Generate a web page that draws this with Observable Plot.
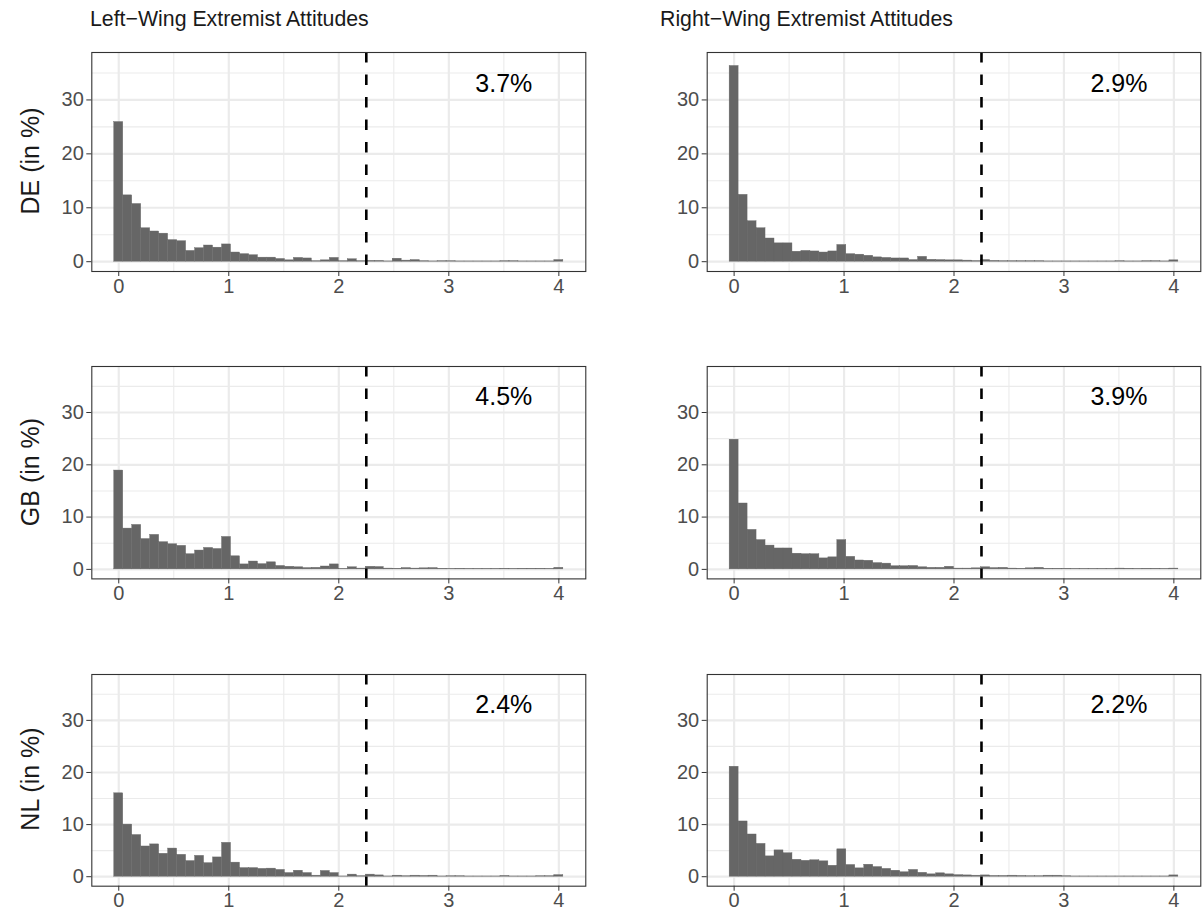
<!DOCTYPE html>
<html>
<head>
<meta charset="utf-8">
<script src="https://cdn.jsdelivr.net/npm/d3@7"></script>
<script src="https://cdn.jsdelivr.net/npm/@observablehq/plot@0.6"></script>
<style>
  html, body { margin: 0; padding: 0; background: #fff; }
  #chart { position: relative; width: 1204px; height: 917px; font-family: "Liberation Sans", Arial, sans-serif; overflow: hidden; }
  .panel { position: absolute; }
  .coltitle { position: absolute; font-size: 21.3px; color: #1a1a1a; white-space: nowrap; }
  .rowlabel { position: absolute; font-size: 25px; color: #1a1a1a; white-space: nowrap; transform: translate(-50%, -50%) rotate(-90deg); line-height: 1; }
</style>
</head>
<body>
<div id="chart"></div>
<script>
// ---- Data (percent of respondents per bin; 50 bins centred on 0 ... 4) ----
const columns = ["Left−Wing Extremist Attitudes", "Right−Wing Extremist Attitudes"];
const countries = ["DE", "GB", "NL"];
const binCount = 50;
const xMin = 0, xMax = 4;
const threshold = 2.25;
const xTicks = [0, 1, 2, 3, 4];
const yTicks = [0, 10, 20, 30];

const DE_left = [25.9, 12.3, 10.7, 6.2, 5.6, 5.2, 4.0, 3.8, 2.0, 2.5, 3.0, 2.6, 3.2, 1.7, 1.4, 1.2, 0.75, 0.75, 0.5, 0.25, 0.7, 0.6, 0.1, 0.25, 0.7, 0.1, 0.45, 0.1, 0.15, 0.15, 0.05, 0.55, 0.2, 0.3, 0.1, 0.05, 0.1, 0.1, 0.05, 0.05, 0.05, 0.05, 0.05, 0.1, 0.1, 0.05, 0.05, 0.05, 0.05, 0.3];
const DE_right = [36.3, 12.4, 7.5, 6.2, 4.3, 3.4, 3.4, 1.85, 2.0, 1.9, 1.7, 1.9, 3.1, 1.4, 1.3, 1.1, 0.8, 0.7, 0.6, 0.6, 0.3, 0.9, 0.35, 0.3, 0.25, 0.25, 0.2, 0.12, 0.3, 0.15, 0.1, 0.1, 0.1, 0.1, 0.1, 0.05, 0.05, 0.05, 0.05, 0.05, 0.05, 0.05, 0.05, 0.1, 0.05, 0.05, 0.1, 0.1, 0.05, 0.25];
const GB_left = [18.9, 7.8, 8.5, 5.8, 6.6, 5.2, 4.8, 4.5, 2.9, 3.6, 4.1, 3.9, 6.2, 2.5, 0.95, 1.5, 1.0, 1.35, 0.65, 0.5, 0.4, 0.25, 0.3, 0.55, 0.95, 0.05, 0.4, 0.15, 0.5, 0.45, 0.15, 0.1, 0.25, 0.15, 0.2, 0.25, 0.1, 0.05, 0.1, 0.05, 0.05, 0.05, 0.05, 0.1, 0.05, 0.1, 0.1, 0.1, 0.05, 0.3];
const GB_right = [24.8, 12.6, 7.55, 5.6, 4.55, 4.0, 4.0, 3.0, 2.9, 2.9, 2.1, 2.3, 5.6, 2.4, 1.7, 1.65, 1.2, 1.1, 0.6, 0.6, 0.65, 0.4, 0.3, 0.3, 0.5, 0.15, 0.15, 0.2, 0.4, 0.25, 0.3, 0.15, 0.1, 0.2, 0.3, 0.1, 0.1, 0.1, 0.05, 0.05, 0.05, 0.05, 0.05, 0.15, 0.1, 0.05, 0.1, 0.1, 0.05, 0.15];
const NL_left = [16.0, 10.0, 8.0, 5.8, 6.2, 4.4, 5.4, 4.2, 3.0, 4.0, 2.6, 3.7, 6.5, 2.7, 1.65, 1.65, 1.5, 1.55, 1.3, 0.7, 1.15, 0.7, 0.2, 1.1, 0.7, 0.05, 0.4, 0.1, 0.4, 0.25, 0.05, 0.2, 0.1, 0.2, 0.15, 0.2, 0.05, 0.1, 0.1, 0.05, 0.05, 0.05, 0.05, 0.15, 0.05, 0.05, 0.05, 0.1, 0.1, 0.3];
const NL_right = [21.1, 10.6, 8.1, 6.3, 3.9, 5.05, 4.5, 3.25, 3.05, 3.15, 2.95, 2.1, 5.25, 2.25, 1.6, 2.3, 1.85, 1.5, 1.15, 0.85, 1.3, 0.75, 0.45, 0.65, 0.45, 0.3, 0.25, 0.2, 0.25, 0.15, 0.15, 0.2, 0.15, 0.1, 0.1, 0.2, 0.2, 0.1, 0.05, 0.05, 0.05, 0.05, 0.05, 0.05, 0.05, 0.05, 0.05, 0.05, 0.05, 0.25];

const shares = {DE: ["3.7%", "2.9%"], GB: ["4.5%", "3.9%"], NL: ["2.4%", "2.2%"]};
const series = {DE: [DE_left, DE_right], GB: [GB_left, GB_right], NL: [NL_left, NL_right]};

// ---- Layout ----
const binWidth = (xMax - xMin) / (binCount - 1);
const xPad = (xMax - xMin + binWidth) * 0.05;
const xDomain = [xMin - binWidth / 2 - xPad, xMax + binWidth / 2 + xPad];
const yDomain = [-1.82, 38.8];

const rowFrames = [{top: 51.7, h: 219}, {top: 366.1, h: 212.4}, {top: 673.5, h: 211.7}];
const colFrames = [{svgLeft: 0, width: 590, ml: 91.3, mr: 4.7}, {svgLeft: 602, width: 602, ml: 104.7, mr: 3.7}];
const titleLefts = [90, 660];

const chart = document.getElementById("chart");
const font = '"Liberation Sans", Arial, sans-serif';

columns.forEach((t, c) => {
  const d = document.createElement("div");
  d.className = "coltitle";
  d.textContent = t;
  d.style.left = titleLefts[c] + "px";
  d.style.top = "7px";
  chart.appendChild(d);
});

countries.forEach((cc, r) => {
  const rf = rowFrames[r];
  const lab = document.createElement("div");
  lab.className = "rowlabel";
  lab.textContent = cc + " (in %)";
  lab.style.left = "30px";
  lab.style.top = (rf.top + rf.h / 2) + "px";
  chart.appendChild(lab);

  [0, 1].forEach(c => {
    const cf = colFrames[c];
    const vals = series[cc][c];
    const bars = vals.map((v, i) => ({
      x1: xMin + i * binWidth - binWidth / 2,
      x2: xMin + i * binWidth + binWidth / 2,
      y: v
    }));
    const mt = 10, mb = 36;
    const svg = Plot.plot({
      width: cf.width,
      height: rf.h + mt + mb,
      marginLeft: cf.ml,
      marginRight: cf.mr,
      marginTop: mt,
      marginBottom: mb,
      style: {fontFamily: font, color: "#4d4d4d", background: "transparent", overflow: "visible"},
      x: {domain: xDomain, label: null},
      y: {domain: yDomain, label: null},
      marks: [
        Plot.gridX([0.5, 1.5, 2.5, 3.5], {stroke: "#ebebeb", strokeOpacity: 1, strokeWidth: 1.1}),
        Plot.gridY([5, 15, 25, 35], {stroke: "#ebebeb", strokeOpacity: 1, strokeWidth: 1.1}),
        Plot.gridX(xTicks, {stroke: "#ebebeb", strokeOpacity: 1, strokeWidth: 2.2}),
        Plot.gridY(yTicks, {stroke: "#ebebeb", strokeOpacity: 1, strokeWidth: 2.2}),
        Plot.rectY(bars, {x1: "x1", x2: "x2", y: "y", fill: "#666666", stroke: "#666666", strokeWidth: 0.4}),
        Plot.ruleX([threshold], {stroke: "#000", strokeWidth: 2.6, strokeDasharray: "10.5,12"}),
        Plot.text([shares[cc][c]], {x: 3.5, y: 33, text: d => d, fontSize: 25, fill: "#000"}),
        Plot.frame({stroke: "#333", strokeWidth: 1.1}),
        Plot.axisX(xTicks, {tickSize: 5, tickPadding: 2, fontSize: 20, stroke: "#333", fill: "#4d4d4d", label: null}),
        Plot.axisY(yTicks, {tickSize: 5, tickPadding: 3, fontSize: 20, stroke: "#333", fill: "#4d4d4d", label: null})
      ]
    });
    svg.classList.add("panel");
    svg.style.left = cf.svgLeft + "px";
    svg.style.top = (rf.top - mt) + "px";
    chart.appendChild(svg);
  });
});
</script>
</body>
</html>
